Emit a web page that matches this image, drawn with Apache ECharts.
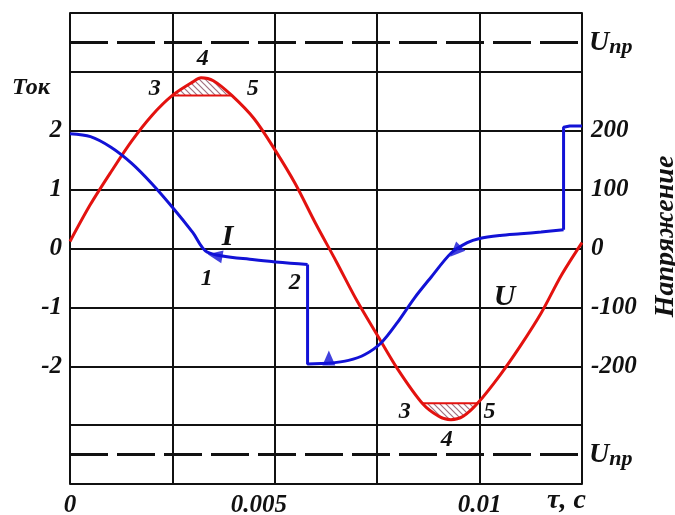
<!DOCTYPE html>
<html><head><meta charset="utf-8">
<script src="https://cdn.jsdelivr.net/npm/echarts@6/dist/echarts.min.js"></script>
<style>html,body{margin:0;padding:0;background:#fff}#c{width:675px;height:515px}</style>
</head><body><div id="c"></div>
<script>
// ---- data ----
// Voltage U (right axis), time in seconds
const voltageT = [0, 0.0005, 0.001, 0.0015, 0.002, 0.0025, 0.003, 0.0032, 0.0035, 0.00395, 0.0045, 0.005, 0.0055, 0.006, 0.0065, 0.007, 0.0075, 0.008, 0.0086, 0.009, 0.0093, 0.0096, 0.00995, 0.0105, 0.011, 0.0115, 0.012, 0.0125];
const voltageU = [12, 75, 130, 182, 226, 260, 283, 290, 285, 260, 220, 168, 110, 42, -22, -88, -147, -205, -263, -285, -291, -285, -263, -215, -165, -110, -45, 10];
// clipped caps (points 3-4-5)
const topCapT = [0.0025, 0.003, 0.0032, 0.0035, 0.00395];
const topCapU = [260, 283, 290, 285, 260];
const botCapT = [0.0086, 0.009, 0.0093, 0.0096, 0.00995];
const botCapU = [-263, -285, -291, -285, -263];
// breakdown voltage level
const uBreak = [350, -350];
// Current I (left axis), pieces
const cur1T = [0, 0.0005, 0.001, 0.0015, 0.002, 0.0025, 0.003, 0.00335, 0.0045, 0.0058];
const cur1I = [1.95, 1.90, 1.72, 1.45, 1.10, 0.70, 0.27, -0.06, -0.19, -0.27];
const stepDownT = [0.0058, 0.0058, 0.0063];
const stepDownI = [-0.27, -1.96, -1.95];
const cur2T = [0.0063, 0.0068, 0.0072, 0.0076, 0.008, 0.0084, 0.0088, 0.0093, 0.0097, 0.01, 0.0105, 0.011, 0.0115, 0.01205];
const cur2I = [-1.95, -1.90, -1.80, -1.60, -1.25, -0.85, -0.50, -0.08, 0.10, 0.17, 0.22, 0.25, 0.28, 0.32];
const stepUpT = [0.01205, 0.01205, 0.0122, 0.0125];
const stepUpI = [0.32, 2.06, 2.08, 2.08];
// direction arrows on the current curve
const arrowT = [0.00354, 0.00632, 0.00941];
const arrowI = [-0.12, -1.86, -0.05];
const arrowRot = [80, 0, 135];
// text annotations (in current-axis coordinates)
const noteText = ['I', '1', '2', 'U', '3', '4', '5', '3', '4', '5'];
const noteT = [0.00385, 0.00334, 0.00549, 0.01061, 0.00207, 0.00324, 0.00446, 0.00817, 0.0092, 0.01024];
const noteI = [0.19, -0.51, -0.58, -0.83, 2.71, 3.22, 2.71, -2.78, -3.25, -2.78];
const noteBig = [true, false, false, true, false, false, false, false, false, false];
// tick labels
const timeLabels = [0, 0.005, 0.01];
const currentLabels = [-2, -1, 0, 1, 2];
const voltageLabels = [-200, -100, 0, 100, 200];

const zip = (a, b) => a.map((v, i) => [v, b[i]]);
const FONT = "'Liberation Serif', 'Times New Roman', serif";
const RED = '#e3120f', BLUE = '#1212d6';

function hatch() {
  const c = document.createElement('canvas');
  c.width = 6; c.height = 6;
  const g = c.getContext('2d');
  g.fillStyle = '#ffffff'; g.fillRect(0, 0, 6, 6);
  g.strokeStyle = '#a07080'; g.lineWidth = 1.2;
  g.beginPath();
  g.moveTo(0, 0); g.lineTo(6, 6);
  g.moveTo(-3, 3); g.lineTo(3, 9);
  g.moveTo(3, -3); g.lineTo(9, 3);
  g.stroke();
  return { image: c, repeat: 'repeat' };
}
const pat = hatch();

const labelBase = { fontFamily: FONT, fontStyle: 'italic', fontWeight: 'bold', color: '#111', fontSize: 25 };

const chart = echarts.init(document.getElementById('c'));
chart.setOption({
  animation: false,
  backgroundColor: '#fff',
  grid: { left: 70, right: 93, top: 13, bottom: 31, show: false, outerBoundsMode: 'none', containLabel: false },
  xAxis: {
    type: 'value', min: 0, max: 0.0125, interval: 0.0025,
    axisLine: { show: true, lineStyle: { color: '#111', width: 2 } },
    axisTick: { show: false },
    splitLine: { show: true, lineStyle: { color: '#111', width: 2 } },
    axisLabel: Object.assign({}, labelBase, {
      margin: 9,
      formatter: v => {
        const k = timeLabels.findIndex(t => Math.abs(t - v) < 1e-9);
        if (k < 0) return '';
        if (k === 1) return '{s|' + timeLabels[k] + '}';
        return String(timeLabels[k]);
      },
      rich: { s: Object.assign({}, labelBase, { padding: [0, 32, 0, 0] }) }
    })
  },
  yAxis: [{
    type: 'value', min: -4, max: 4, interval: 1, position: 'left',
    axisLine: { show: true, lineStyle: { color: '#111', width: 2 } },
    axisTick: { show: false },
    splitLine: { show: true, lineStyle: { color: '#111', width: 2 } },
    axisLabel: Object.assign({}, labelBase, {
      margin: 8, padding: [0, 0, 16, 0],
      formatter: v => currentLabels.includes(v) ? String(v) : ''
    })
  }, {
    type: 'value', min: -400, max: 400, interval: 100, position: 'right',
    axisLine: { show: true, lineStyle: { color: '#111', width: 2 } },
    axisTick: { show: false },
    splitLine: { show: false },
    axisLabel: Object.assign({}, labelBase, {
      margin: 9, padding: [0, 0, 16, 0],
      formatter: v => voltageLabels.includes(v) ? String(v) : ''
    }),
    name: 'Напряжение', nameLocation: 'middle', nameRotate: 90, nameGap: 70,
    nameTextStyle: Object.assign({}, labelBase, { fontSize: 28, padding: [0, 0, 0, 24] })
  }],
  graphic: [
    { type: 'text', left: 12, top: 76, style: Object.assign({}, labelBase, { text: 'Ток', fill: '#111', fontSize: 24 }) },
    { type: 'text', left: 547, top: 487, style: Object.assign({}, labelBase, { text: 'τ, c', fill: '#111', fontSize: 28 }) }
  ],
  series: [
    { type: 'line', yAxisIndex: 1, data: zip(topCapT, topCapU), smooth: 0.3, symbol: 'none',
      lineStyle: { width: 0 }, areaStyle: { color: pat, origin: 260, opacity: 1 }, z: 2, silent: true },
    { type: 'line', yAxisIndex: 1, data: zip(botCapT, botCapU), smooth: 0.3, symbol: 'none',
      lineStyle: { width: 0 }, areaStyle: { color: pat, origin: -263, opacity: 1 }, z: 2, silent: true },
    { type: 'line', yAxisIndex: 1, data: [[topCapT[0], topCapU[0]], [topCapT[4], topCapU[4]]], symbol: 'none',
      lineStyle: { color: RED, width: 2 }, z: 3 },
    { type: 'line', yAxisIndex: 1, data: [[botCapT[0], botCapU[0]], [botCapT[4], botCapU[4]]], symbol: 'none',
      lineStyle: { color: RED, width: 2 }, z: 3 },
    { type: 'line', yAxisIndex: 1, data: zip(voltageT, voltageU), smooth: 0.3, symbol: 'none',
      lineStyle: { color: RED, width: 3 }, z: 4,
      markLine: {
        silent: true, symbol: 'none',
        lineStyle: { color: '#111', width: 3, type: [38, 9] },
        label: {
          position: 'end', distance: 7, formatter: '{u|U}{s|пр}',
          rich: {
            u: Object.assign({}, labelBase, { fontSize: 28 }),
            s: Object.assign({}, labelBase, { fontSize: 22, padding: [10, 0, 0, 0] })
          }
        },
        data: uBreak.map(v => ({ yAxis: v }))
      } },
    { type: 'line', data: zip(cur1T, cur1I), smooth: 0.3, symbol: 'none', lineStyle: { color: BLUE, width: 3 }, z: 5 },
    { type: 'line', data: zip(stepDownT, stepDownI), symbol: 'none', lineStyle: { color: BLUE, width: 3 }, z: 5 },
    { type: 'line', data: zip(cur2T, cur2I), smooth: 0.3, symbol: 'none', lineStyle: { color: BLUE, width: 3 }, z: 5 },
    { type: 'line', data: zip(stepUpT, stepUpI), symbol: 'none', lineStyle: { color: BLUE, width: 3 }, z: 5 },
    { type: 'scatter', symbol: 'triangle', symbolSize: [13, 15], z: 6,
      itemStyle: { color: BLUE },
      data: arrowT.map((t, i) => ({ value: [t, arrowI[i]], symbolRotate: arrowRot[i] })) },
    { type: 'scatter', symbol: 'circle', symbolSize: 2, z: 7, silent: true,
      itemStyle: { color: 'rgba(255,255,255,0)' },
      labelLayout: { hideOverlap: false },
      data: noteT.map((t, i) => ({
        value: [t, noteI[i]], name: noteText[i],
        label: { show: true, position: [1, 1], align: 'center', verticalAlign: 'middle',
          formatter: noteText[i], opacity: 1, textBorderWidth: 0,
          fontFamily: FONT, fontStyle: 'italic', fontWeight: 'bold', color: '#111',
          fontSize: noteBig[i] ? 30 : 24 }
      })) }
  ]
});
</script>
</body></html>
